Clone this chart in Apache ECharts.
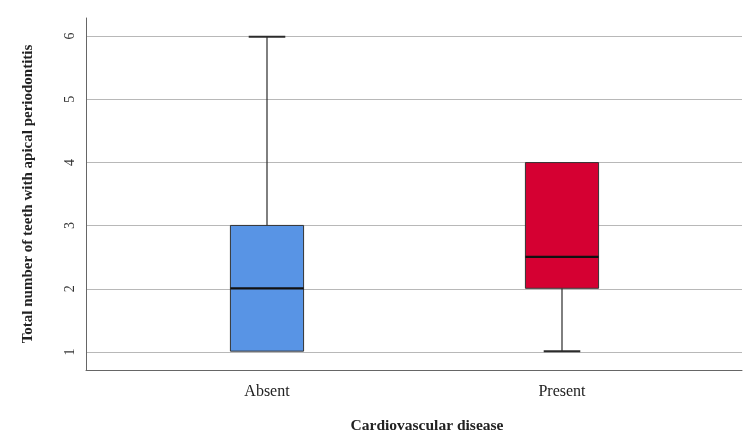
<!DOCTYPE html>
<html>
<head>
<meta charset="utf-8">
<script src="https://cdn.jsdelivr.net/npm/echarts@6/dist/echarts.min.js"></script>
<style>
html, body { margin: 0; padding: 0; background: #fff; }
#boxChart { width: 750px; height: 439px; }
</style>
</head>
<body>
<div id="boxChart"></div>
<script>
// data
var categories = ['Absent', 'Present'];
var minValues = [1, 1];
var q1Values = [1, 2];
var medianValues = [2, 2.5];
var q3Values = [3, 4];
var maxValues = [6, 4];
var boxColors = ['#5894e5', '#d50032'];
var yTicks = [1, 2, 3, 4, 5, 6];

window.onload = function() {
    loadBoxChart();
}

function loadBoxChart() {
    var serif = '"Liberation Serif", "DejaVu Serif", serif';

    // one row per box: index, min, q1, median, q3, max
    var rows = categories.map(function(c, i) {
        return [i, minValues[i], q1Values[i], medianValues[i], q3Values[i], maxValues[i]];
    });

    var option = {
        backgroundColor: '#ffffff',
        animation: false,
        grid: [
            // frame (axis lines)
            { left: 86, right: 8, top: 18, bottom: 69, outerBoundsMode: 'none' },
            // gridlines and tick labels
            { left: 86, right: 8, top: 36, height: 316, outerBoundsMode: 'none' },
            // boxes
            { left: 119.5, width: 590, top: 18, bottom: 69, outerBoundsMode: 'none' }
        ],
        xAxis: [
            { gridIndex: 0, type: 'value', min: 0, max: 1,
              axisLine: { show: true, lineStyle: { color: '#666', width: 1 } },
              axisTick: { show: false }, axisLabel: { show: false }, splitLine: { show: false },
              name: 'Cardiovascular disease', nameLocation: 'middle', nameGap: 48,
              nameTextStyle: { fontFamily: serif, fontSize: 15.5, fontWeight: 'bold', color: '#222',
                               padding: [0, 0, 0, 26] } },
            { gridIndex: 1, type: 'value', show: false },
            { gridIndex: 2, type: 'category', data: categories,
              axisLine: { show: false }, axisTick: { show: false },
              axisLabel: { fontFamily: serif, fontSize: 16, color: '#222', margin: 14 } }
        ],
        yAxis: [
            { gridIndex: 0, type: 'value', min: 0.7, max: 6.3,
              axisLine: { show: true, lineStyle: { color: '#666', width: 1 } },
              axisTick: { show: false }, axisLabel: { show: false }, splitLine: { show: false },
              name: 'Total number of teeth with apical periodontitis', nameLocation: 'middle', nameGap: 50,
              nameTextStyle: { fontFamily: serif, fontSize: 15, fontWeight: 'bold', color: '#222' } },
            { gridIndex: 1, type: 'value', min: yTicks[0], max: yTicks[yTicks.length - 1], interval: 1,
              axisLine: { show: false }, axisTick: { show: false },
              axisLabel: { fontFamily: serif, fontSize: 14, color: '#333', rotate: 90, margin: 9 },
              splitLine: { show: true, lineStyle: { color: '#b8b8b8', width: 1 } } },
            { gridIndex: 2, type: 'value', min: 0.7, max: 6.3, show: false }
        ],
        series: [{
            type: 'custom',
            xAxisIndex: 2,
            yAxisIndex: 2,
            data: rows,
            renderItem: function(params, api) {
                var idx = api.value(0);
                var pMin = api.coord([idx, api.value(1)]);
                var pQ1 = api.coord([idx, api.value(2)]);
                var pMed = api.coord([idx, api.value(3)]);
                var pQ3 = api.coord([idx, api.value(4)]);
                var pMax = api.coord([idx, api.value(5)]);
                var band = api.size([1, 0])[0];
                var half = band * 0.124;
                var cap = half / 2;
                var x = pMed[0];
                var stroke = { stroke: '#2b2b2b', lineWidth: 1.2 };
                var children = [
                    { type: 'line', shape: { x1: x, y1: pMax[1], x2: x, y2: pQ3[1] }, style: stroke },
                    { type: 'line', shape: { x1: x, y1: pMin[1], x2: x, y2: pQ1[1] }, style: stroke },
                    { type: 'rect', shape: { x: x - half, y: pQ3[1], width: half * 2, height: pQ1[1] - pQ3[1] },
                      style: { fill: boxColors[params.dataIndex], stroke: '#333', lineWidth: 1 } },
                    { type: 'line', shape: { x1: x - half, y1: pMed[1], x2: x + half, y2: pMed[1] },
                      style: { stroke: '#111', lineWidth: 2.2 } }
                ];
                if (pMax[1] < pQ3[1]) {
                    children.push({ type: 'line', shape: { x1: x - cap, y1: pMax[1], x2: x + cap, y2: pMax[1] },
                        style: { stroke: '#2b2b2b', lineWidth: 2 } });
                }
                if (pMin[1] > pQ1[1]) {
                    children.push({ type: 'line', shape: { x1: x - cap, y1: pMin[1], x2: x + cap, y2: pMin[1] },
                        style: { stroke: '#2b2b2b', lineWidth: 2 } });
                }
                return { type: 'group', children: children };
            }
        }]
    };

    var boxChart = echarts.init(document.getElementById('boxChart'));
    boxChart.setOption(option);
}
</script>
</body>
</html>
